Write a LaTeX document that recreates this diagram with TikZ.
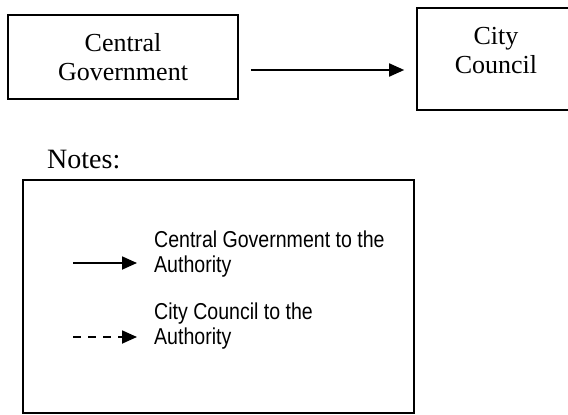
\documentclass[tikz,border=0pt]{standalone}
\usepackage{fontspec}
\setmainfont{Liberation Serif}
\newfontfamily\legendfont[FakeStretch=0.85]{Liberation Sans}
\usetikzlibrary{arrows.meta}

\tikzset{
  frame/.style={draw=black, line width=1.6pt, inner sep=0pt},
  boxlabel/.style={align=center, inner sep=0pt,
    font=\fontsize{26}{29}\selectfont},
  legendtext/.style={align=left, inner sep=0pt, anchor=north west,
    font=\legendfont\fontsize{23}{25.5}\selectfont},
  flow/.style={line width=1.8pt, -{Triangle[length=15pt,width=13pt]}},
  dashflow/.style={flow, dash pattern=on 8pt off 7pt},
}

\begin{document}
\begin{tikzpicture}[x=1pt, y=-1pt]
  \useasboundingbox (0,0) rectangle (568,415);
  \clip (0,0) rectangle (568,415);
  \fill[white] (0,0) rectangle (568,415);

  % organisation boxes
  \node[frame, boxlabel, minimum width=230pt, minimum height=84pt]
    (cg) at (123,57) {Central\\Government};
  \node[frame, minimum width=158pt, minimum height=102pt]
    (city) at (496,59) {};
  \node[boxlabel] (citylabel) at (496,50.5) {City\\Council};

  % reporting line between the two bodies
  \coordinate (flowy) at (0,70);
  \draw[flow, shorten <=12pt, shorten >=12pt]
    (cg.east |- flowy) -- (city.west |- flowy);

  % key
  \node[anchor=base west, inner sep=0pt, font=\fontsize{28}{30}\selectfont]
    (notes) at (47,168) {Notes:};
  \node[frame, minimum width=391pt, minimum height=233pt]
    (legend) at (218.5,296.5) {};

  \node[legendtext] (keyone) at (154,230.5) {Central Government to the\\Authority};
  \node[legendtext] (keytwo) at (154,302.5) {City Council to the\\Authority};

  \coordinate (solidstart) at (73,263);
  \coordinate (solidend) at (137,263);
  \coordinate (dashstart) at (73,337);
  \coordinate (dashend) at (137,337);
  \draw[flow] (solidstart) -- (solidend);
  \draw[dashflow] (dashstart) -- (dashend);
\end{tikzpicture}
\end{document}
